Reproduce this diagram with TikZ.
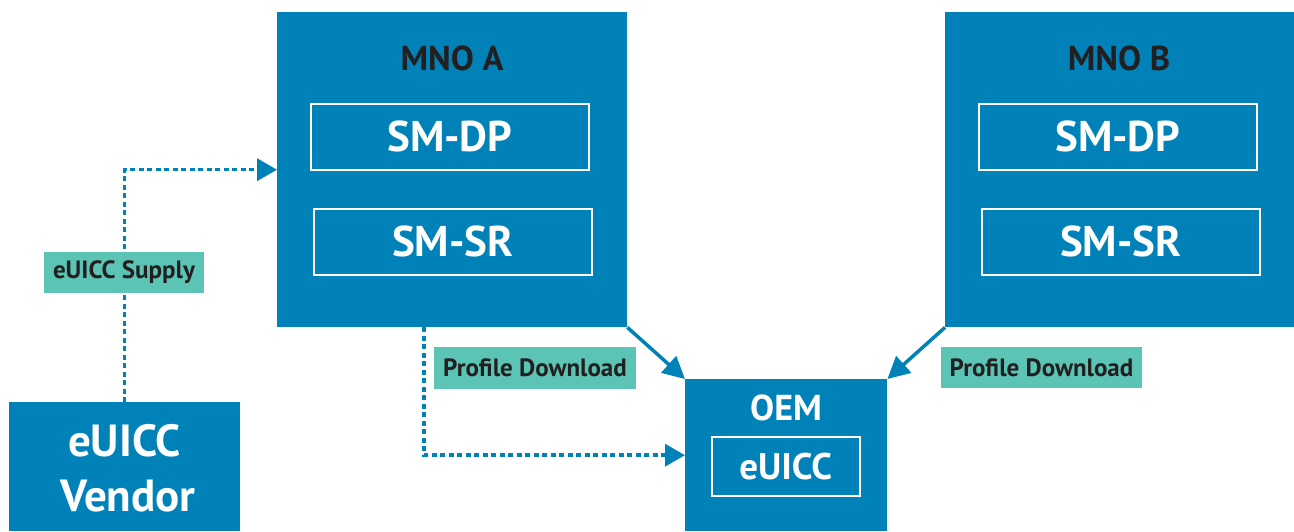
\documentclass[tikz,border=0pt]{standalone}
\usepackage{fontspec}
\setmainfont{PT Sans}
\usetikzlibrary{arrows.meta}
\definecolor{mblue}{RGB}{0,130,184}
\definecolor{mteal}{RGB}{91,196,180}
\definecolor{mdark}{RGB}{35,31,32}
\tikzset{
  bluebox/.style={fill=mblue, draw=none, anchor=north west, inner sep=0pt},
  innerbox/.style={draw=white, line width=1.5pt, anchor=north west, inner sep=0pt, text=white, font=\bfseries\fontsize{43}{46}\selectfont},
  title/.style={text=mdark, font=\bfseries\fontsize{34.5}{38}\selectfont, inner sep=0pt},
  lbl/.style={fill=mteal, text=mdark, inner sep=0pt, font=\bfseries\fontsize{25}{28}\selectfont},
  dotline/.style={mblue, line width=3.5pt, dash pattern=on 5pt off 3.5pt, -{Triangle[length=20pt,width=22pt]}},
  solidline/.style={mblue, line width=3.5pt, -{Triangle[length=22pt,width=22pt]}},
}
\begin{document}
\begin{tikzpicture}[x=1pt,y=-1pt]
\useasboundingbox (0,0) rectangle (1294,531);
% MNO A
\node[bluebox, minimum width=350pt, minimum height=315pt] (mnoA) at (277,12) {};
\node[title] (mnoAt) at (452,58) {MNO A};
\node[innerbox, minimum width=278pt, minimum height=66pt] (dpA) at (310,103) {SM-DP};
\node[innerbox, minimum width=278pt, minimum height=66pt] (srA) at (313,208) {SM-SR};
% MNO B
\node[bluebox, minimum width=350pt, minimum height=315pt] (mnoB) at (945,12) {};
\node[title] (mnoBt) at (1119,58) {MNO B};
\node[innerbox, minimum width=278pt, minimum height=66pt] (dpB) at (978,103) {SM-DP};
\node[innerbox, minimum width=278pt, minimum height=66pt] (srB) at (981,208) {SM-SR};
% OEM
\node[bluebox, minimum width=202pt, minimum height=152pt] (oem) at (685,379) {};
\node[text=white, font=\bfseries\fontsize{36}{40}\selectfont, inner sep=0pt] (oemt) at (786,408) {OEM};
\node[innerbox, minimum width=148pt, minimum height=59pt, font=\bfseries\fontsize{37}{40}\selectfont] (euicc) at (711,436) {eUICC};
% eUICC Vendor
\node[bluebox, minimum width=231pt, minimum height=129pt] (vendor) at (9,402) {};
\node[text=white, font=\bfseries\fontsize{45}{50}\selectfont, inner sep=0pt] (vendort1) at (124.5,441) {eUICC};
\node[text=white, font=\bfseries\fontsize{45}{50}\selectfont, inner sep=0pt] (vendort2) at (128,496) {Vendor};
% connectors
\draw[dotline] (vendor.north) |- (mnoA.west);
\coordinate (pA) at (424,327);
\draw[dotline] (pA) |- (oem.west);
\draw[solidline] (mnoA.south east) -- (oem.north west);
\draw[solidline] (mnoB.south west) -- (oem.north east);
% labels
\node[lbl, minimum width=160pt, minimum height=41pt] (supply) at (124,272.5) {eUICC Supply};
\node[lbl, minimum width=202pt, minimum height=42pt] (pdA) at (535,368) {Profile Download};
\node[lbl, minimum width=201pt, minimum height=41pt] (pdB) at (1041.5,367.5) {Profile Download};
\end{tikzpicture}
\end{document}
